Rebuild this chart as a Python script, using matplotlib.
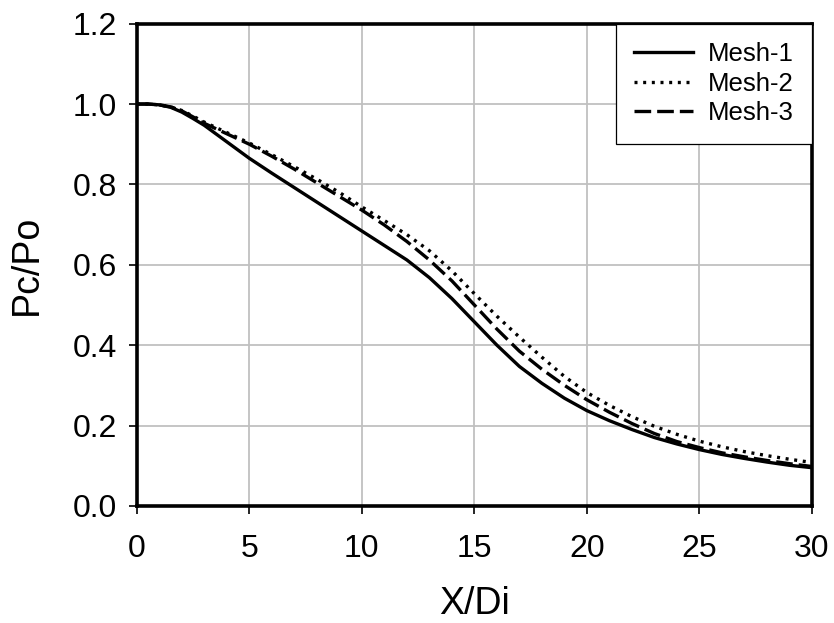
import numpy as np
import matplotlib
matplotlib.use("Agg")
import matplotlib.pyplot as plt

plt.rcParams['font.family'] = ['Liberation Sans', 'DejaVu Sans']

# values
x_pts = [0, 0.5, 1, 1.5, 2, 2.5, 3, 4, 5, 6, 7, 8, 9, 10, 11, 12, 13, 14, 15,
         16, 17, 18, 19, 20, 21, 22, 23, 24, 25, 26, 27, 28, 29, 30]
mesh1 = [1.000, 1.000, 0.998, 0.992, 0.980, 0.964, 0.947, 0.906, 0.865, 0.828, 0.792,
         0.756, 0.720, 0.684, 0.648, 0.612, 0.568, 0.516, 0.458, 0.400, 0.347, 0.305,
         0.268, 0.237, 0.212, 0.190, 0.170, 0.154, 0.140, 0.128, 0.118, 0.109, 0.101, 0.095]
mesh2 = [1.000, 1.000, 0.998, 0.993, 0.984, 0.970, 0.955, 0.929, 0.903, 0.874, 0.844,
         0.813, 0.780, 0.744, 0.710, 0.675, 0.635, 0.585, 0.528, 0.472, 0.420, 0.370,
         0.322, 0.282, 0.250, 0.222, 0.198, 0.178, 0.161, 0.147, 0.135, 0.125, 0.116, 0.108]
mesh3 = [1.000, 1.000, 0.998, 0.993, 0.983, 0.968, 0.952, 0.926, 0.900, 0.870, 0.838,
         0.804, 0.770, 0.736, 0.699, 0.658, 0.612, 0.560, 0.500, 0.440, 0.385, 0.340,
         0.300, 0.264, 0.233, 0.205, 0.180, 0.160, 0.145, 0.132, 0.122, 0.113, 0.105, 0.098]

labels = ["Mesh-1", "Mesh-2", "Mesh-3"]
dash_styles = ["-", (0, (0.9, 1.7)), (0, (5, 1.8))]

fig = plt.figure(figsize=(8.34, 6.23), dpi=100)
ax = fig.add_axes([0.164, 0.188, 0.8096, 0.774])

for y, lab, ls in zip([mesh1, mesh2, mesh3], labels, dash_styles):
    ax.plot(x_pts, y, color="black", linestyle=ls, linewidth=2.4, label=lab)

ax.set_xlim(0, 30)
ax.set_ylim(0, 1.2)
ax.set_xticks(np.arange(0, 31, 5))
ax.set_yticks(np.arange(0, 1.21, 0.2))
ax.yaxis.set_major_formatter(matplotlib.ticker.FormatStrFormatter("%.1f"))
ax.grid(True, color="#c0c0c0", linewidth=1.3)
ax.set_axisbelow(True)

for s in ax.spines.values():
    s.set_linewidth(2.6)
    s.set_color("black")

ax.tick_params(axis="both", direction="out", length=6, width=1.2, labelsize=23)
ax.tick_params(axis="x", pad=14)
ax.tick_params(axis="y", pad=8)

ax.set_xlabel("X/Di", fontsize=27, labelpad=16)
ax.set_ylabel("Pc/Po", fontsize=27, labelpad=20)

leg = ax.legend(loc="upper right", borderaxespad=0, fancybox=False, fontsize=18.5,
                handlelength=2.3, handletextpad=0.55, labelspacing=0.22,
                borderpad=0.72, framealpha=1, edgecolor="black")
leg.get_frame().set_linewidth(0.9)

fig.savefig("out.png", dpi=100)
